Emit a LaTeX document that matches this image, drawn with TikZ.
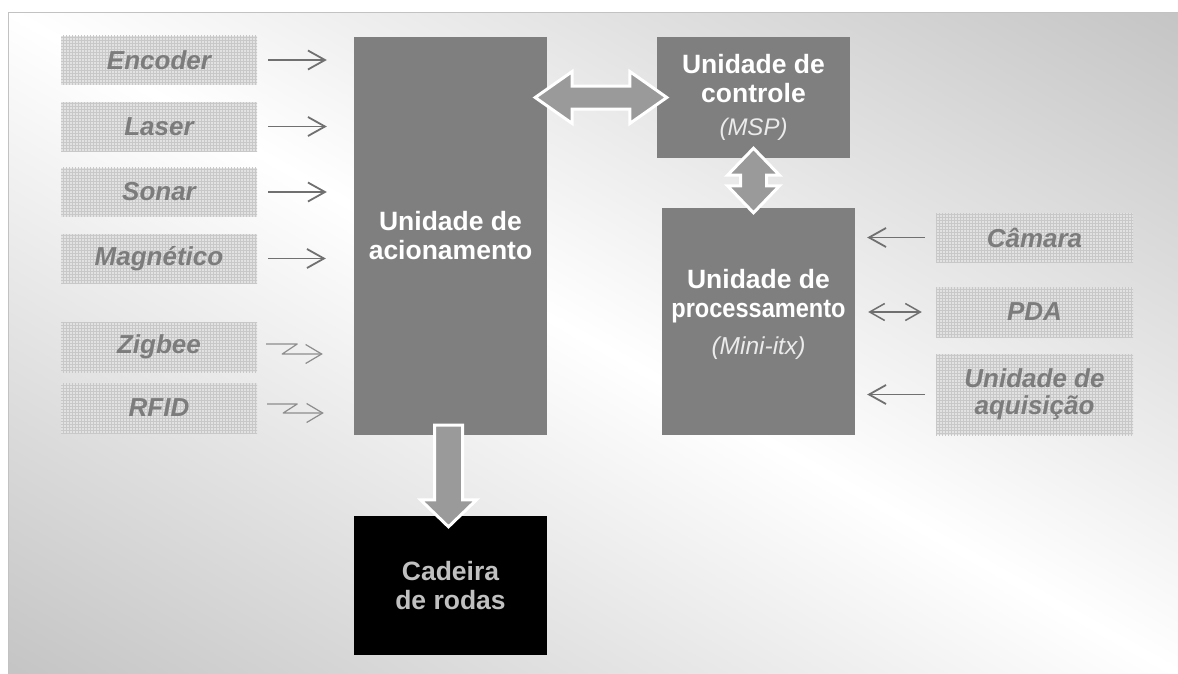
\documentclass[tikz,border=0pt]{standalone}
\usepackage{fontspec}
\usepackage{graphicx}
\setmainfont{Liberation Sans}
\usetikzlibrary{arrows.meta,calc,patterns}

\definecolor{boxgray}{HTML}{7F7F7F}
\definecolor{arrgray}{HTML}{9A9A9A}
\definecolor{txtgray}{HTML}{7C7C7C}
\definecolor{linegray}{HTML}{707070}
\definecolor{bggray}{HTML}{C2C2C2}
\definecolor{hatchfill}{HTML}{E2E2E2}
\definecolor{hatchline}{HTML}{C8C8C8}
\definecolor{cadtxt}{HTML}{C0C0C0}
\definecolor{subwhite}{HTML}{EBEBEB}

\tikzset{
  inbox/.style={minimum width=196pt, minimum height=49pt, inner sep=0pt,
    preaction={fill=hatchfill}, pattern=grid, pattern color=hatchline,
    text=txtgray, align=center,
    font=\fontsize{26}{27}\selectfont\bfseries\itshape},
  unitbox/.style={fill=boxgray, text=white, inner sep=0pt, align=center,
    minimum width=193pt, font=\fontsize{26.5}{29}\selectfont\bfseries},
  subtext/.style={},
  thinarr/.style={draw=linegray, line width=1.8pt,
    -{Straight Barb[length=17pt,width=19pt]}},
  wavyarr/.style={draw=linegray!80, line width=1.2pt, line join=round,
    -{Straight Barb[length=16pt,width=19pt]}},
  blockarr/.style={fill=arrgray, draw=white, line width=3pt, line join=miter},
}

\begin{document}
\begin{tikzpicture}[x=1pt,y=-1pt]
\useasboundingbox (0,0) rectangle (1178,673);
% background
\fill[white] (0,0) rectangle (1178,673);
\begin{scope}
  \clip (8,12) rectangle (1178,673);
  \shade[transform canvas={rotate around={60.5:(593,342)}},
    left color=bggray, right color=bggray, middle color=white]
    (-7,-458) rectangle (1193,1142);
\end{scope}
\draw[bggray, line width=1pt] (8,673) -- (8,12) -- (1178,12);

% sensors on the left
\node[inbox] (enc) at (159,60) {Encoder};
\node[inbox] (las) at (159,126.5) {Laser};
\node[inbox] (son) at (159,192) {Sonar};
\node[inbox] (mag) at (159,258.5) {Magnético};
\node[inbox, minimum height=50pt] (zig) at (159,347) {Zigbee};
\node[inbox, minimum height=50pt] (rfid) at (159,408) {RFID};

% units
\node[unitbox, minimum height=398pt] (acion) at (450.5,236) {Unidade de\\acionamento};
\node[unitbox, minimum height=121pt] (ctrl) at (753.5,97.5)
  {Unidade de\\controle\\[4pt]{\color{subwhite}\mdseries\itshape\fontsize{24}{29}\selectfont (MSP)}};
\node[unitbox, minimum height=227pt] (proc) at (758.5,321.5) {};
\node[align=center, text=white, font=\fontsize{26.5}{29}\selectfont\bfseries]
  (proctxt) at ($(proc.center)+(0,-7)$)
  {Unidade de\\\scalebox{0.89}[1]{processamento}\\[8pt]%
   {\color{subwhite}\mdseries\itshape\fontsize{24.5}{29}\selectfont (Mini-itx)}};
\node[unitbox, fill=black, text=cadtxt, minimum height=139pt] (cad) at (450.5,585.5)
  {Cadeira\\de rodas};

% devices on the right
\node[inbox, minimum width=197pt] (cam) at (1034.5,237.5) {Câmara};
\node[inbox, minimum width=197pt, minimum height=50pt] (pda) at (1034.5,312) {PDA};
\node[inbox, minimum width=197pt, minimum height=81pt] (aqui) at (1034.5,394.5)
  {Unidade de\\aquisição};

% wired inputs
\draw[thinarr, shorten <=11pt, shorten >=27pt] (enc.east) -- (enc.east -| acion.west);
\draw[thinarr, shorten <=11pt, shorten >=27pt] (las.east) -- (las.east -| acion.west);
\draw[thinarr, shorten <=11pt, shorten >=27pt] (son.east) -- (son.east -| acion.west);
\draw[thinarr, shorten <=11pt, shorten >=28pt] (mag.east) -- (mag.east -| acion.west);
% wireless inputs
\draw[wavyarr] ($(zig.east)+(9,-3)$) -- ++(31,0) -- ++(-15,10)
  -- ($(zig.east -| acion.west)+(-31,7)$);
\draw[wavyarr] ($(rfid.east)+(10,-4)$) -- ++(30,0) -- ++(-14,9)
  -- ($(rfid.east -| acion.west)+(-30,5)$);

% right side
\draw[thinarr, shorten <=11pt, shorten >=12pt] (cam.west) -- (cam.west -| proc.east);
\draw[thinarr, line width=1.5pt, {Straight Barb[length=15pt,width=17pt]}-{Straight Barb[length=15pt,width=17pt]},
  shorten <=14pt, shorten >=13pt] (pda.west) -- (pda.west -| proc.east);
\draw[thinarr, shorten <=11pt, shorten >=12pt] (aqui.west) -- (aqui.west -| proc.east);

% block arrows
\coordinate (hL) at ($(acion.east |- ctrl.west)+(-12,0)$);
\coordinate (hR) at ($(ctrl.west)+(10,0)$);
\draw[blockarr] (hL) -- ++(37,-26) -- ++(0,14.5) -- ($(hR)+(-37,-11.5)$) -- ++(0,-14.5)
  -- (hR) -- ++(-37,26) -- ++(0,-14.5) -- ($(hL)+(37,11.5)$) -- ++(0,14.5) -- cycle;

\coordinate (vT) at ($(ctrl.south)+(0,-10)$);
\coordinate (vB) at ($(vT |- proc.north)+(0,5)$);
\draw[blockarr] (vT) -- ++(26,27) -- ++(-13,0) -- ($(vB)+(13,-27)$) -- ++(13,0)
  -- (vB) -- ++(-26,-27) -- ++(13,0) -- ($(vT)+(-13,27)$) -- ++(-13,0) -- cycle;

\coordinate (dT) at ($(acion.south)+(-2,-10)$);
\coordinate (dB) at ($(cad.north)+(-2,11)$);
\draw[blockarr] ($(dT)+(-14,0)$) -- ($(dT)+(14,0)$) -- ($(dB)+(14,-27)$) -- ++(14,0)
  -- (dB) -- ++(-28,-27) -- ++(14,0) -- cycle;
\end{tikzpicture}
\end{document}
